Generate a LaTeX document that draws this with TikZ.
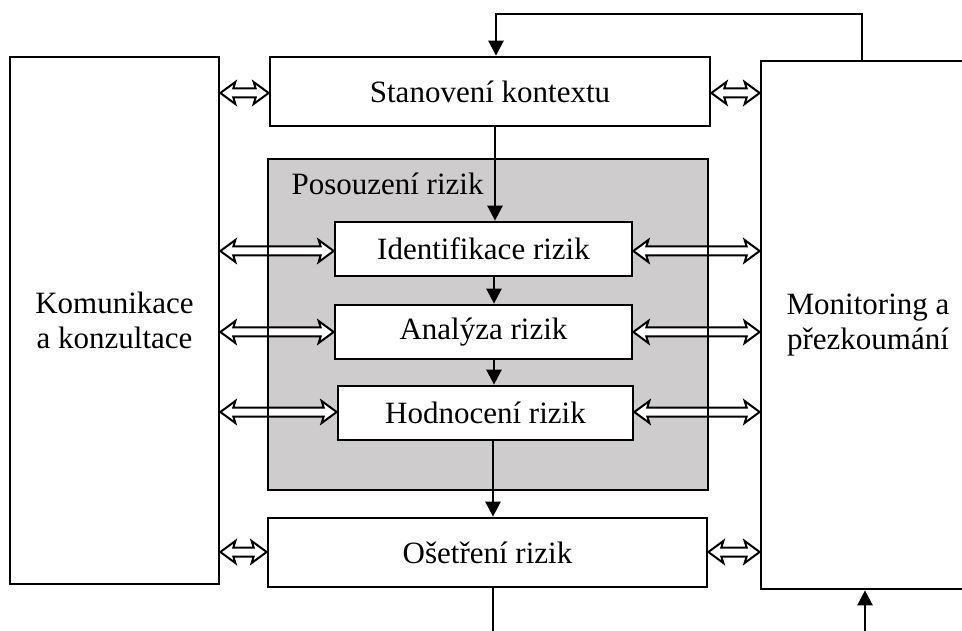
\documentclass[tikz,border=0pt]{standalone}
\usepackage{fontspec}
\setmainfont{Liberation Serif}
\usetikzlibrary{arrows.meta,calc}

% hollow two-headed arrow between two nodes at a given height
\newcommand\twoway[3]{%
  \draw[twoway] let \p1=(#1.east |- 0,#3), \p2=(#2.west |- 0,#3) in
    (\x1,\y1) -- (\x1+15pt,\y1+11pt) -- (\x1+13pt,\y1+4.5pt)
    -- (\x2-13pt,\y1+4.5pt) -- (\x2-15pt,\y1+11pt) -- (\x2,\y1)
    -- (\x2-15pt,\y1-11pt) -- (\x2-13pt,\y1-4.5pt)
    -- (\x1+13pt,\y1-4.5pt) -- (\x1+15pt,\y1-11pt) -- cycle;}

\definecolor{panelgray}{RGB}{206,204,204}

\begin{document}
\begin{tikzpicture}[x=1pt,y=-1pt,
  txt/.style={font=\fontsize{31}{35}\selectfont},
  box/.style={draw, line width=2.7pt, fill=white, inner sep=0pt, txt, align=center},
  panel/.style={fill=panelgray, draw, line width=2.7pt, inner sep=0pt, outer sep=0pt},
  flow/.style={line width=2.5pt, -{Triangle[length=15pt,width=15pt]}},
  plain/.style={line width=2.5pt},
  twoway/.style={line width=2pt, fill=white, line join=miter}]

\useasboundingbox (0,0) rectangle (962,631);

% side columns
\node[box, minimum width=209pt, minimum height=527pt] (kom) at (114.5,320.5)
  {Komunikace\\a konzultace};
\node[box, minimum width=214pt, minimum height=528pt] (mon) at (868,325)
  {Monitoring a\\přezkoumání};

% main process
\node[box, minimum width=440pt, minimum height=69pt] (stan) at (490,91.5) {Stanovení kontextu};
\node[panel, minimum width=440pt, minimum height=331pt] (pos) at (488,324.5) {};
\node[txt, anchor=base west] (postitle) at (288,195) {Posouzení rizik};
\node[box, minimum width=297pt, minimum height=54pt] (ident) at (483.5,249) {Identifikace rizik};
\node[box, minimum width=297pt, minimum height=54pt] (anal) at (483.5,332) {Analýza rizik};
\node[box, minimum width=295pt, minimum height=54pt] (hodn) at (485.5,413) {Hodnocení rizik};
\node[box, minimum width=439pt, minimum height=69pt] (oset) at (487.5,552.5) {Ošetření rizik};

% helper coordinates for the vertical flow lines
\coordinate (xa) at (495,0);
\coordinate (xb) at (494,0);
\coordinate (xc) at (493,0);
\coordinate (xfb) at (862,0);
\coordinate (xret) at (865,0);
\coordinate (topfb) at (496,14);
\coordinate (botout) at (493,640);
\coordinate (botin) at (865,640);

% downward flow
\draw[flow] (stan.south -| xa) -- (ident.north -| xa);
\draw[flow] (ident.south -| xb) -- (anal.north -| xb);
\draw[flow] (anal.south -| xb) -- (hodn.north -| xb);
\draw[flow] (hodn.south -| xc) -- (oset.north -| xc);
\draw[plain] (oset.south -| xc) -- (botout);

% feedback loops
\draw[flow] (botin) -- (mon.south -| xret);
\draw[flow] (mon.north -| xfb) |- (topfb) -- (stan.north -| topfb);

% two-way links
\twoway{kom}{stan}{93}
\twoway{stan}{mon}{93}
\twoway{kom}{ident}{251}
\twoway{ident}{mon}{251}
\twoway{kom}{anal}{332}
\twoway{anal}{mon}{332}
\twoway{kom}{hodn}{412}
\twoway{hodn}{mon}{412}
\twoway{kom}{oset}{552}
\twoway{oset}{mon}{552}

% panel outline on top of the links
\draw[line width=2.7pt] (pos.north west) rectangle (pos.south east);

\end{tikzpicture}
\end{document}
